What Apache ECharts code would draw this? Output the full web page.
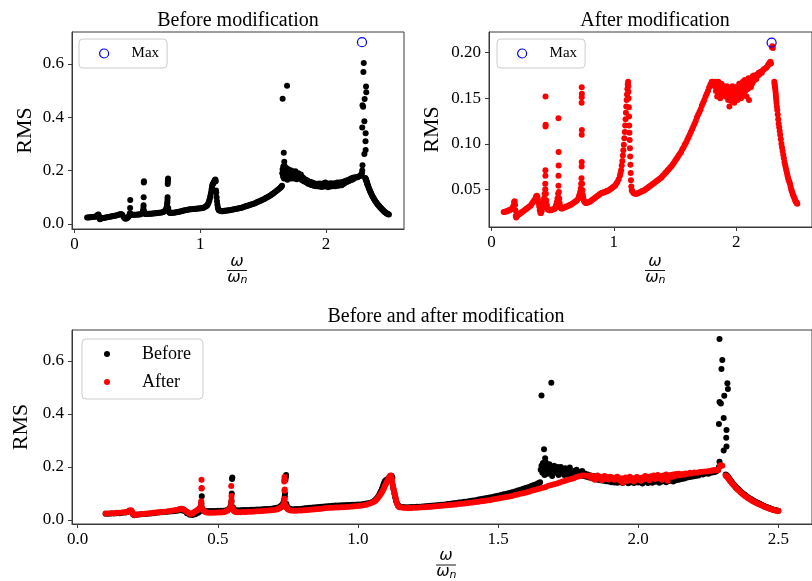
<!DOCTYPE html>
<html><head><meta charset="utf-8">
<script src="https://cdn.jsdelivr.net/npm/echarts@6/dist/echarts.min.js"></script>
<style>html,body{margin:0;padding:0;background:#fff}#c{width:812px;height:581px}</style>
</head><body><div id="c"></div>
<script>
// ---------- tick labels / titles ----------
const xTicksTop = [0, 1, 2];
const yTicksBefore = [0.0, 0.2, 0.4, 0.6];
const yTicksAfter = [0.05, 0.10, 0.15, 0.20];
const xTicksBottom = [0.0, 0.5, 1.0, 1.5, 2.0, 2.5];
const yTicksBottom = [0.0, 0.2, 0.4, 0.6];
const titles = ['Before modification', 'After modification', 'Before and after modification'];
const legendNames = ['Max', 'Before', 'After'];

// ---------- BEFORE modification (black) ----------
const beforeLow = [[0.10,0.024],[0.11,0.024],[0.12,0.025],[0.13,0.025],[0.14,0.026],[0.15,0.026],[0.16,0.027],[0.17,0.028],[0.175,0.029],[0.18,0.031],[0.185,0.034],[0.19,0.035],[0.194,0.03],[0.198,0.022],[0.202,0.018],[0.206,0.019],[0.21,0.02],[0.22,0.021],[0.23,0.022],[0.24,0.023],[0.25,0.024],[0.26,0.025],[0.27,0.026],[0.28,0.027],[0.29,0.028],[0.30,0.029],[0.31,0.03],[0.32,0.031],[0.33,0.032],[0.34,0.033],[0.35,0.034],[0.36,0.036],[0.37,0.037],[0.38,0.034],[0.39,0.026],[0.40,0.02],[0.41,0.019],[0.42,0.022],[0.43,0.027],[0.435,0.032]];
const beforePeaks = [[0.44,0.04],[0.442,0.06],[0.443,0.09],[0.446,0.038],[0.45,0.035],[0.46,0.034],[0.47,0.034],[0.48,0.034],[0.49,0.034],[0.50,0.035],[0.51,0.035],[0.52,0.035],[0.53,0.037],[0.54,0.042],[0.545,0.05],
 [0.548,0.06],[0.549,0.07],[0.55,0.1],[0.551,0.155],[0.552,0.16],[0.554,0.048],[0.558,0.04],[0.562,0.037],
 [0.57,0.037],[0.58,0.037],[0.59,0.038],[0.60,0.038],[0.61,0.038],[0.62,0.039],[0.63,0.039],[0.64,0.04],[0.65,0.04],[0.66,0.041],[0.67,0.042],[0.68,0.042],[0.69,0.043],[0.70,0.044],[0.71,0.046],[0.72,0.049],[0.725,0.053],[0.73,0.058],[0.734,0.065],
 [0.736,0.075],[0.738,0.08],[0.739,0.09],[0.74,0.1],[0.741,0.15],[0.742,0.158],[0.743,0.165],[0.744,0.17],[0.745,0.06],[0.748,0.05],[0.752,0.045],[0.757,0.042],[0.762,0.041],
 [0.77,0.041],[0.78,0.042],[0.79,0.042],[0.80,0.043],[0.81,0.044],[0.82,0.045],[0.83,0.046],[0.84,0.047],[0.85,0.048],[0.86,0.049],[0.87,0.05],[0.88,0.051],[0.89,0.052],[0.90,0.053],[0.91,0.054],[0.92,0.055],[0.93,0.055],[0.94,0.056],[0.95,0.056],[0.96,0.057],[0.97,0.057],[0.98,0.058],[0.99,0.058],[1.00,0.059],[1.01,0.059],[1.02,0.06],[1.03,0.062],[1.04,0.064],[1.05,0.067],[1.055,0.07],
 [1.06,0.074],[1.065,0.079],[1.07,0.085],[1.074,0.092],[1.078,0.1],[1.082,0.109],[1.086,0.119],[1.09,0.13],[1.093,0.139],[1.096,0.146],[1.10,0.15],[1.104,0.153],[1.108,0.156],[1.112,0.16],[1.116,0.164],[1.12,0.167],[1.123,0.16],[1.125,0.125],[1.127,0.118],[1.13,0.1],[1.133,0.085],[1.136,0.072],[1.14,0.062],[1.144,0.055],[1.148,0.051],[1.152,0.05],[1.16,0.049],[1.17,0.048],[1.18,0.048],[1.19,0.049],[1.20,0.049]];
const beforeRise = [[1.21,0.05],[1.22,0.05],[1.23,0.051],[1.24,0.052],[1.25,0.053],[1.26,0.054],[1.27,0.055],[1.28,0.056],[1.29,0.057],[1.30,0.058],[1.31,0.059],[1.32,0.06],[1.33,0.061],[1.34,0.063],[1.35,0.064],[1.36,0.066],[1.37,0.067],[1.38,0.069],[1.39,0.07],[1.40,0.072],[1.41,0.074],[1.42,0.075],[1.43,0.077],[1.44,0.079],[1.45,0.081],[1.46,0.083],[1.47,0.085],[1.48,0.087],[1.49,0.09],[1.50,0.092],[1.51,0.094],[1.52,0.097],[1.53,0.099],[1.54,0.102],[1.55,0.105],[1.56,0.108],[1.57,0.111],[1.58,0.114],[1.59,0.118],[1.60,0.122],[1.61,0.125],[1.62,0.129],[1.63,0.133],[1.64,0.137],[1.645,0.14],[1.65,0.143]];
const beforeCluster = [[1.652,0.19],[1.655,0.205],[1.655,0.47],[1.658,0.178],[1.66,0.215],[1.662,0.195],[1.664,0.267],[1.666,0.17],[1.668,0.233],[1.668,0.2],[1.67,0.218],[1.672,0.185],[1.675,0.205],[1.678,0.175],[1.68,0.195],[1.683,0.21],[1.686,0.18],[1.69,0.518],[1.69,0.2],[1.693,0.166],[1.696,0.19],[1.70,0.205],[1.703,0.178],[1.706,0.195],[1.71,0.185],[1.713,0.2],[1.716,0.17],[1.72,0.19],[1.724,0.2],[1.728,0.178],[1.732,0.188],[1.736,0.17],[1.74,0.195],[1.744,0.182],[1.748,0.172],[1.752,0.188],[1.756,0.198],[1.76,0.178],[1.765,0.168],[1.77,0.185],[1.775,0.175],[1.78,0.19],[1.785,0.17],[1.79,0.18],[1.795,0.172],[1.80,0.185],[1.805,0.166],[1.81,0.176],[1.815,0.163],[1.82,0.172],[1.825,0.16],[1.83,0.168],[1.835,0.158],[1.84,0.166],[1.845,0.155],[1.85,0.163],[1.855,0.152],[1.86,0.16],[1.865,0.15],[1.87,0.158],[1.875,0.148],[1.88,0.156],[1.885,0.146],[1.89,0.155],[1.895,0.145],[1.90,0.153],[1.905,0.143],[1.91,0.152],[1.915,0.142],[1.92,0.15],[1.925,0.141],[1.93,0.151],[1.935,0.143],[1.94,0.149],[1.945,0.14],[1.95,0.152],[1.955,0.144],[1.96,0.148],[1.965,0.139],[1.97,0.15],[1.975,0.143],[1.98,0.153],[1.985,0.14],[1.99,0.147],[1.995,0.155],[2.00,0.142],[2.005,0.15],[2.01,0.145],[2.015,0.138],[2.02,0.152],[2.025,0.144],[2.03,0.149],[2.035,0.14],[2.04,0.153],[2.045,0.146],[2.05,0.141],[2.055,0.15],[2.06,0.144],[2.065,0.153],[2.07,0.147],[2.075,0.141],[2.08,0.151],[2.085,0.145],[2.09,0.155],[2.095,0.148],[2.10,0.143],[2.105,0.152],[2.11,0.147],[2.115,0.156],[2.12,0.15],[2.125,0.145],[2.13,0.155],[2.135,0.15],[2.14,0.158],[2.145,0.152],[2.15,0.16],[2.155,0.155],[2.16,0.162],[2.165,0.157],[2.17,0.164],[2.175,0.16],[2.18,0.166],[2.185,0.162],[2.19,0.168],[2.195,0.164],[2.20,0.17],[2.205,0.166],[2.21,0.172],[2.215,0.168],[2.22,0.174],[2.23,0.172],[2.24,0.176],[2.25,0.175],[2.26,0.178],[2.27,0.18],[2.275,0.182],[2.28,0.185],[2.285,0.19]];
const beforeSpike = [[2.288,0.2],[2.29,0.22],[2.288,0.362],[2.29,0.445],[2.295,0.44],[2.297,0.57],[2.30,0.604],[2.305,0.262],[2.305,0.385],[2.307,0.469],[2.314,0.31],[2.315,0.277],[2.315,0.34],[2.318,0.516],[2.32,0.494]];
const beforeSpikeTop = [[2.29,0.683]];   // visible only in the combined plot
const beforeDecay = [[2.312,0.172],[2.314,0.17],[2.316,0.168],[2.318,0.166],[2.32,0.163],[2.322,0.16],[2.324,0.157],[2.326,0.154],[2.328,0.151],[2.33,0.148],[2.333,0.144],[2.336,0.14],[2.34,0.135],[2.344,0.13],[2.348,0.125],[2.352,0.121],[2.356,0.117],[2.36,0.113],[2.365,0.108],[2.37,0.103],[2.375,0.099],[2.38,0.095],[2.385,0.091],[2.39,0.087],[2.395,0.083],[2.40,0.08],[2.405,0.077],[2.41,0.074],[2.415,0.071],[2.42,0.068],[2.425,0.065],[2.43,0.063],[2.435,0.06],[2.44,0.058],[2.445,0.055],[2.45,0.052],[2.455,0.05],[2.46,0.048],[2.465,0.046],[2.47,0.044],[2.475,0.042],[2.48,0.04],[2.485,0.039],[2.49,0.037],[2.495,0.036],[2.50,0.035]];
const beforeMax = [[2.286, 0.682]];

// ---------- AFTER modification (red) ----------
const afterLow = [[0.10,0.025],[0.11,0.025],[0.12,0.026],[0.13,0.026],[0.14,0.027],[0.15,0.027],[0.16,0.028],[0.17,0.029],[0.175,0.030],[0.18,0.032],[0.185,0.036],[0.19,0.037],[0.193,0.033],[0.196,0.027],[0.199,0.021],[0.202,0.019],[0.206,0.020],[0.21,0.021],[0.22,0.022],[0.23,0.023],[0.24,0.024],[0.25,0.025],[0.26,0.026],[0.27,0.027],[0.28,0.028],[0.29,0.029],[0.30,0.030],[0.31,0.031],[0.32,0.032],[0.33,0.034],[0.34,0.036],[0.35,0.038],[0.36,0.040],[0.365,0.042],[0.37,0.043],[0.375,0.042],[0.38,0.039],[0.385,0.035],[0.39,0.031],[0.395,0.027],[0.40,0.024],[0.405,0.024],[0.41,0.026],[0.415,0.029],[0.42,0.032],[0.425,0.036],[0.43,0.040],[0.435,0.045]];
const afterPeaks = [[0.44,0.05],[0.44,0.056],[0.441,0.065],[0.441,0.071],[0.442,0.119],[0.443,0.121],[0.442,0.152],[0.445,0.045],[0.448,0.038],[0.452,0.033],[0.456,0.030],[0.46,0.028],
 [0.47,0.027],[0.48,0.027],[0.49,0.027],[0.50,0.028],[0.51,0.028],[0.52,0.029],[0.525,0.031],[0.53,0.033],[0.535,0.036],[0.54,0.040],[0.545,0.045],
 [0.548,0.054],[0.548,0.065],[0.549,0.076],[0.549,0.091],[0.548,0.128],[0.551,0.047],[0.554,0.040],[0.557,0.035],[0.56,0.032],[0.565,0.030],
 [0.57,0.029],[0.58,0.029],[0.59,0.030],[0.60,0.030],[0.61,0.031],[0.62,0.031],[0.63,0.032],[0.64,0.033],[0.65,0.033],[0.66,0.034],[0.67,0.035],[0.68,0.036],[0.69,0.037],[0.70,0.038],[0.71,0.040],[0.715,0.042],[0.72,0.044],[0.725,0.047],[0.73,0.051],[0.733,0.056],
 [0.736,0.062],[0.737,0.075],[0.738,0.080],[0.738,0.110],[0.739,0.115],[0.737,0.145],[0.738,0.151],[0.739,0.155],[0.738,0.162],[0.741,0.056],[0.744,0.049],[0.747,0.044],[0.75,0.041],[0.755,0.038],[0.76,0.036],
 [0.77,0.035],[0.78,0.035],[0.79,0.036],[0.80,0.036],[0.81,0.037],[0.82,0.038],[0.83,0.039],[0.84,0.040],[0.85,0.041],[0.86,0.042],[0.87,0.043],[0.88,0.044],[0.89,0.045],[0.90,0.046],[0.91,0.046],[0.92,0.047],[0.93,0.047],[0.94,0.048],[0.95,0.048],[0.96,0.049],[0.97,0.050],[0.98,0.051],[0.99,0.052],[1.00,0.053],[1.01,0.054],[1.02,0.056],[1.03,0.058],[1.04,0.061],[1.05,0.065],[1.055,0.068],
 [1.06,0.071],[1.065,0.076],[1.07,0.081],[1.074,0.087],[1.078,0.093],[1.082,0.099],[1.086,0.106],[1.09,0.113],[1.093,0.120],[1.096,0.127],[1.099,0.134],[1.102,0.141],[1.105,0.148],[1.108,0.154],[1.111,0.160],[1.114,0.165],[1.117,0.168],[1.119,0.163],[1.12,0.157],[1.121,0.150],[1.123,0.140],[1.125,0.130],[1.126,0.120],[1.128,0.112],[1.13,0.104],[1.132,0.095],[1.134,0.086],[1.136,0.077],[1.138,0.068],[1.14,0.060],[1.143,0.053],[1.147,0.049],
 [1.15,0.048],[1.16,0.046],[1.17,0.045],[1.18,0.045],[1.19,0.045],[1.20,0.046]];
const afterRise = [[1.21,0.0465],[1.22,0.047],[1.23,0.048],[1.24,0.048],[1.25,0.049],[1.26,0.050],[1.27,0.051],[1.28,0.052],[1.29,0.053],[1.30,0.054],[1.31,0.055],[1.32,0.056],[1.33,0.057],[1.34,0.058],[1.35,0.059],[1.36,0.060],[1.37,0.061],[1.38,0.062],[1.39,0.063],[1.40,0.065],[1.41,0.066],[1.42,0.068],[1.43,0.069],[1.44,0.071],[1.45,0.072],[1.46,0.074],[1.47,0.075],[1.48,0.077],[1.49,0.079],[1.50,0.081],[1.51,0.083],[1.52,0.085],[1.53,0.087],[1.54,0.089],[1.55,0.091],[1.56,0.094],[1.57,0.096],[1.58,0.099],[1.59,0.101],[1.60,0.104],[1.61,0.107],[1.62,0.110],[1.63,0.113],[1.64,0.116],[1.65,0.119],[1.66,0.122],[1.67,0.125],[1.68,0.129],[1.69,0.132],[1.70,0.135],[1.71,0.138],[1.72,0.142],[1.73,0.145],[1.74,0.148],[1.75,0.152],[1.76,0.155],[1.77,0.158],[1.78,0.162],[1.79,0.165],[1.80,0.168],[1.81,0.168],[1.82,0.167]];
const afterCluster = [[1.825,0.163],[1.83,0.168],[1.835,0.158],[1.84,0.165],[1.845,0.152],[1.85,0.162],[1.855,0.168],[1.86,0.157],[1.865,0.163],[1.87,0.15],[1.875,0.16],[1.88,0.166],[1.885,0.155],[1.89,0.161],[1.895,0.153],[1.90,0.163],[1.905,0.157],[1.91,0.16],[1.915,0.152],[1.92,0.158],[1.925,0.163],[1.93,0.155],[1.935,0.148],[1.94,0.158],[1.945,0.141],[1.95,0.152],[1.955,0.16],[1.96,0.147],[1.965,0.155],[1.97,0.163],[1.975,0.15],[1.98,0.158],[1.985,0.145],[1.99,0.155],[1.995,0.162],[2.00,0.152],[2.005,0.158],[2.01,0.148],[2.015,0.16],[2.02,0.154],[2.025,0.166],[2.03,0.157],[2.035,0.162],[2.04,0.15],[2.045,0.165],[2.05,0.158],[2.055,0.168],[2.06,0.155],[2.065,0.163],[2.07,0.17],[2.075,0.158],[2.08,0.165],[2.085,0.152],[2.09,0.168],[2.095,0.16],[2.10,0.172],[2.105,0.148],[2.11,0.165],[2.115,0.17],[2.12,0.162],[2.125,0.172],[2.13,0.166],[2.135,0.174],[2.14,0.168],[2.145,0.175],[2.15,0.17],[2.16,0.174],[2.165,0.171],[2.17,0.176],[2.18,0.175],[2.185,0.178],[2.19,0.176],[2.20,0.179],[2.21,0.178],[2.22,0.181],[2.23,0.182],[2.24,0.183],[2.25,0.184],[2.26,0.186],[2.265,0.187],[2.27,0.188],[2.275,0.189],[2.28,0.19],[2.285,0.188],[2.292,0.206],[2.296,0.207],[2.30,0.205]];
const afterDecay = [[2.312,0.168],[2.314,0.166],[2.316,0.164],[2.318,0.162],[2.32,0.160],[2.322,0.157],[2.324,0.154],[2.326,0.151],[2.328,0.148],[2.33,0.145],[2.333,0.141],[2.336,0.137],[2.34,0.132],[2.344,0.127],[2.348,0.122],[2.352,0.118],[2.356,0.114],[2.36,0.110],[2.365,0.105],[2.37,0.100],[2.375,0.096],[2.38,0.092],[2.385,0.088],[2.39,0.084],[2.395,0.080],[2.40,0.077],[2.405,0.074],[2.41,0.071],[2.415,0.068],[2.42,0.065],[2.425,0.062],[2.43,0.060],[2.435,0.058],[2.44,0.056],[2.445,0.053],[2.45,0.050],[2.455,0.048],[2.46,0.046],[2.465,0.044],[2.47,0.042],[2.475,0.041],[2.48,0.039],[2.485,0.037],[2.49,0.036],[2.495,0.035],[2.50,0.034]];
const afterMax = [[2.29, 0.211]];

const beforeTop = [].concat(beforeLow, beforePeaks, beforeRise, beforeCluster, beforeSpike, beforeDecay);
const beforeBottom = beforeTop.concat(beforeSpikeTop);
const afterAll = [].concat(afterLow, afterPeaks, afterRise, afterCluster, afterDecay);

// ---------- styling / layout ----------
const SERIF = '"Liberation Serif", "Times New Roman", serif';
const AX = '#3a3a3a';
const grids = [
  {left: 72, top: 32, width: 332, height: 197},
  {left: 489, top: 32, width: 333, height: 195},
  {left: 72, top: 330, width: 748, height: 194}
];
function xAxis(gi, ticks, dec) {
  return {type: 'value', gridIndex: gi, min: -0.02, max: 2.62,
    axisLine: {show: true, onZero: false, lineStyle: {color: AX, width: 1}},
    axisTick: {show: true, length: 4, customValues: ticks, lineStyle: {color: AX}},
    axisLabel: {customValues: ticks, formatter: v => Number(v).toFixed(dec), fontFamily: SERIF, fontSize: 17, color: '#000', margin: 7},
    splitLine: {show: false}};
}
function yAxis(gi, ticks, dec, min, max, gap) {
  return {type: 'value', gridIndex: gi, min: min, max: max,
    name: 'RMS', nameLocation: 'middle', nameRotate: 90, nameGap: gap,
    nameTextStyle: {fontFamily: SERIF, fontSize: 22, color: '#000'},
    axisLine: {show: true, onZero: false, lineStyle: {color: AX, width: 1}},
    axisTick: {show: true, length: 4, customValues: ticks, lineStyle: {color: AX}},
    axisLabel: {customValues: ticks, formatter: v => Number(v).toFixed(dec), fontFamily: SERIF, fontSize: 17, color: '#000', margin: 8},
    splitLine: {show: false}};
}
function frac(cx, cy) {
  const f = '"DejaVu Sans", sans-serif';
  return {type: 'group', children: [
    {type: 'text', x: cx, y: cy - 9, style: {text: 'ω', font: 'italic 16px ' + f, fill: '#000', align: 'center', verticalAlign: 'middle'}},
    {type: 'line', shape: {x1: cx - 10, y1: cy, x2: cx + 10, y2: cy}, style: {stroke: '#000', lineWidth: 0.9}},
    {type: 'text', x: cx - 3, y: cy + 7, style: {text: 'ω', font: 'italic 16px ' + f, fill: '#000', align: 'center', verticalAlign: 'middle'}},
    {type: 'text', x: cx + 3.5, y: cy + 10, style: {text: 'n', font: 'italic 11px ' + f, fill: '#000', align: 'left', verticalAlign: 'middle'}}
  ]};
}
function title(cx, y, t) {
  return {type: 'text', x: cx, y: y, style: {text: t, font: '20px ' + SERIF, fill: '#000', align: 'center', verticalAlign: 'top'}};
}
const legBox = {backgroundColor: 'rgba(255,255,255,0.8)', borderColor: '#cccccc', borderWidth: 1, borderRadius: 4, selectedMode: false, orient: 'vertical', symbolKeepAspect: true};
const maxIcon = {color: 'rgba(0,0,0,0)', borderColor: '#0000ff', borderWidth: 1.2, opacity: 1};
function legText(size, padLeft) {
  return {fontFamily: SERIF, fontSize: size, color: '#000',
    rich: {t: {fontFamily: SERIF, fontSize: size, color: '#000', padding: [0, 0, 0, padLeft]}}};
}

const option = {
  animation: false,
  backgroundColor: '#ffffff',
  grid: grids.map(g => Object.assign({show: true, borderColor: AX, borderWidth: 1, backgroundColor: 'rgba(0,0,0,0)', containLabel: false}, g)),
  xAxis: [xAxis(0, xTicksTop, 0), xAxis(1, xTicksTop, 0), xAxis(2, xTicksBottom, 1)],
  yAxis: [yAxis(0, yTicksBefore, 1, -0.019, 0.72, 36), yAxis(1, yTicksAfter, 2, 0.0086, 0.2227, 46), yAxis(2, yTicksBottom, 1, -0.015, 0.717, 36)],
  legend: [
    Object.assign({left: 79, top: 39, itemWidth: 9, itemHeight: 9, padding: [7, 8, 7, 20],
      data: [{name: legendNames[0], icon: 'circle', itemStyle: maxIcon}],
      formatter: n => '{t|' + n + '}', textStyle: legText(15, 18)}, legBox),
    Object.assign({left: 497, top: 39, itemWidth: 9, itemHeight: 9, padding: [7, 8, 7, 20],
      data: [{name: legendNames[0], icon: 'circle', itemStyle: maxIcon}],
      formatter: n => '{t|' + n + '}', textStyle: legText(15, 18)}, legBox),
    Object.assign({left: 82, top: 339, itemWidth: 6, itemHeight: 6, itemGap: 10, padding: [6, 12, 8, 22],
      data: [{name: legendNames[1], icon: 'circle'}, {name: legendNames[2], icon: 'circle'}],
      formatter: n => '{t|' + n + '}', textStyle: legText(18, 27)}, legBox)
  ],
  graphic: [
    title(238, 11, titles[0]), title(655, 11, titles[1]), title(446, 307, titles[2]),
    frac(237, 270.5), frac(655, 270.5), frac(446, 565)
  ],
  series: [
    {name: 'beforeTop', type: 'scatter', xAxisIndex: 0, yAxisIndex: 0, data: beforeTop, symbolSize: 6, itemStyle: {color: '#000', opacity: 1}, silent: true},
    {name: legendNames[0], type: 'scatter', xAxisIndex: 0, yAxisIndex: 0, data: beforeMax, symbolSize: 9, z: 5, itemStyle: maxIcon},
    {name: 'afterTop', type: 'scatter', xAxisIndex: 1, yAxisIndex: 1, data: afterAll, symbolSize: 6, itemStyle: {color: '#ff0000', opacity: 1}, silent: true},
    {name: legendNames[0], type: 'scatter', xAxisIndex: 1, yAxisIndex: 1, data: afterMax, symbolSize: 9, z: 5, itemStyle: maxIcon},
    {name: legendNames[1], type: 'scatter', xAxisIndex: 2, yAxisIndex: 2, data: beforeBottom, symbolSize: 6, itemStyle: {color: '#000', opacity: 1}},
    {name: legendNames[2], type: 'scatter', xAxisIndex: 2, yAxisIndex: 2, data: afterAll, symbolSize: 6, z: 3, itemStyle: {color: '#ff0000', opacity: 1}}
  ]
};
const chart = echarts.init(document.getElementById('c'), null, {renderer: 'canvas'});
chart.setOption(option);
</script>
</body></html>
